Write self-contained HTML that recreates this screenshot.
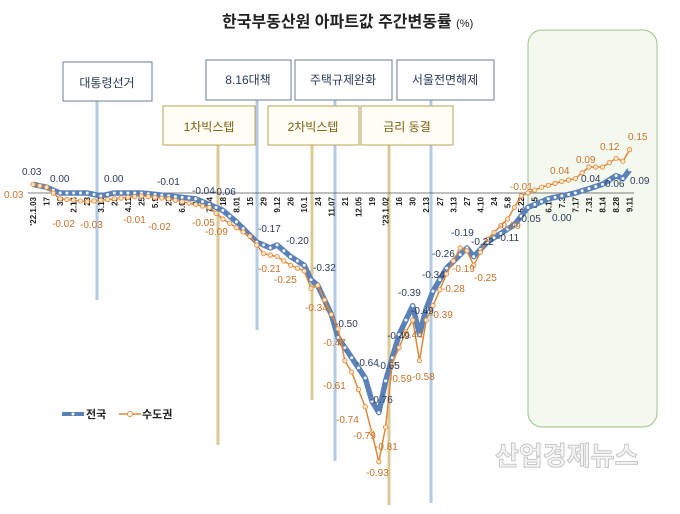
<!DOCTYPE html>
<html><head><meta charset="utf-8"><style>
body{margin:0;background:#fff}
svg text{font-family:"Liberation Sans","Noto Sans CJK KR",sans-serif}
</style></head><body>
<svg id="s" width="680" height="509" viewBox="0 0 680 509" xmlns="http://www.w3.org/2000/svg">
<rect width="680" height="509" fill="#fff"/>
<rect x="528" y="30" width="129" height="397" rx="14" fill="#f3f9ee" stroke="#9dc08b" stroke-width="1"/>
<text x="222" y="27" font-size="16" font-weight="bold" fill="#222">한국부동산원 아파트값 주간변동률 <tspan font-size="11" font-weight="normal">(%)</tspan></text>
<g stroke-width="3" opacity="0.8">
<line x1="97" y1="101" x2="97" y2="300" stroke="#9fbfdc"/>
<line x1="257" y1="100" x2="257" y2="330" stroke="#9fbfdc"/>
<line x1="335" y1="100" x2="335" y2="461" stroke="#9fbfdc"/>
<line x1="431" y1="100" x2="431" y2="503" stroke="#9fbfdc"/>
<line x1="218" y1="145" x2="218" y2="445" stroke="#d2bd7a"/>
<line x1="312" y1="145" x2="312" y2="400" stroke="#d2bd7a"/>
<line x1="389" y1="145" x2="389" y2="505" stroke="#d2bd7a"/>
</g>
<g font-size="12" text-anchor="middle">
<rect x="63" y="62" width="89" height="39" fill="#fff" stroke="#6d7c95"/><text x="107" y="87" fill="#2b3a57">대통령선거</text>
<rect x="206" y="60" width="85" height="40" fill="#fff" stroke="#6d7c95"/><text x="248" y="84" fill="#2b3a57">8.16대책</text>
<rect x="295" y="60" width="97" height="40" fill="#fff" stroke="#6d7c95"/><text x="343" y="84" fill="#2b3a57">주택규제완화</text>
<rect x="397" y="60" width="97" height="40" fill="#fff" stroke="#6d7c95"/><text x="445" y="84" fill="#2b3a57">서울전면해제</text>
<rect x="163" y="106" width="92" height="39" fill="#fffdf4" stroke="#b9a25a"/><text x="209" y="131" fill="#7a5a10">1차빅스텝</text>
<rect x="268" y="106" width="91" height="39" fill="#fffdf4" stroke="#b9a25a"/><text x="313" y="131" fill="#7a5a10">2차빅스텝</text>
<rect x="361" y="106" width="92" height="39" fill="#fffdf4" stroke="#b9a25a"/><text x="407" y="131" fill="#7a5a10">금리 동결</text>
</g>
<line x1="28" y1="193" x2="634" y2="193" stroke="#555" stroke-width="0.8"/>
<g id="ticks" font-size="8" font-weight="bold" fill="#222"></g>
<g id="ser"></g>
<g font-size="10" fill="#2b3a57">
<text x="22" y="175">0.03</text><text x="50" y="182">0.00</text><text x="104" y="182">0.00</text>
<text x="157" y="185">-0.01</text><text x="192" y="194">-0.04</text><text x="213" y="195">-0.06</text>
<text x="258" y="232">-0.17</text><text x="286" y="244">-0.20</text><text x="313" y="271">-0.32</text>
<text x="335" y="327">-0.50</text><text x="356" y="366">-0.64</text><text x="377" y="369">-0.65</text>
<text x="370" y="403">-0.76</text><text x="387" y="339">-0.49</text><text x="398" y="296">-0.39</text>
<text x="411" y="314">-0.49</text><text x="422" y="278">-0.34</text><text x="432" y="257">-0.26</text>
<text x="451" y="236">-0.19</text><text x="471" y="245">-0.22</text><text x="497" y="241">-0.11</text>
<text x="518" y="222">-0.05</text><text x="552" y="221">0.00</text><text x="581" y="182">0.04</text>
<text x="605" y="187">0.06</text><text x="630" y="184">0.09</text>
</g>
<g font-size="10" fill="#c8722a">
<text x="4" y="198">0.03</text><text x="52" y="227">-0.02</text><text x="80" y="228">-0.03</text>
<text x="123" y="223">-0.01</text><text x="148" y="230">-0.02</text><text x="192" y="226">-0.05</text>
<text x="205" y="235">-0.09</text><text x="258" y="272">-0.21</text><text x="274" y="283">-0.25</text>
<text x="305" y="311">-0.34</text><text x="323" y="346">-0.47</text><text x="323" y="389">-0.61</text>
<text x="336" y="423">-0.74</text><text x="353" y="439">-0.79</text><text x="375" y="450">-0.81</text>
<text x="366" y="476">-0.93</text><text x="389" y="382">-0.59</text><text x="400" y="338">-0.44</text>
<text x="412" y="380">-0.58</text><text x="430" y="318">-0.39</text><text x="442" y="292">-0.28</text>
<text x="452" y="272">-0.19</text><text x="474" y="281">-0.25</text><text x="498" y="229">-0.09</text>
<text x="510" y="190">-0.01</text><text x="550" y="174">0.04</text><text x="576" y="163">0.09</text>
<text x="600" y="150">0.12</text><text x="628" y="140">0.15</text>
</g>
<line x1="62" y1="414" x2="84" y2="414" stroke="#5b82b8" stroke-width="4"/><circle cx="73" cy="414" r="1.5" fill="#fff"/>
<text x="86" y="418" font-size="11" font-weight="bold" fill="#222">전국</text>
<line x1="119" y1="414" x2="141" y2="414" stroke="#e0883a" stroke-width="1.5"/><circle cx="130" cy="414" r="2.5" fill="#fff" stroke="#e0883a"/>
<text x="142" y="418" font-size="11" font-weight="bold" fill="#222">수도권</text>
<text x="495" y="465" font-size="26" font-weight="bold" fill="#f4f4f4" stroke="#c8c8c8" stroke-width="1">산업경제뉴스</text>
</svg>
<script>
var X=i=>33+6.78*i, Y=v=>193-v*289;
function interp(k){var a=[];for(var i=0;i<=88;i++){for(var j=0;j<k.length-1;j++){if(i>=k[j][0]&&i<=k[j+1][0]){var t=(i-k[j][0])/(k[j+1][0]-k[j][0]||1);a.push(k[j][1]+t*(k[j+1][1]-k[j][1]));break;}}}return a;}
var B=interp([[0,0.03],[2,0.02],[4,0.00],[8,0.00],[10,-0.01],[12,0.00],[16,0.00],[20,-0.01],[24,-0.02],[26,-0.04],[28,-0.06],[30,-0.10],[33,-0.17],[35,-0.19],[36,-0.18],[38,-0.22],[40,-0.25],[41,-0.30],[42,-0.32],[44,-0.42],[45,-0.50],[47,-0.57],[49,-0.64],[50,-0.72],[51,-0.76],[52,-0.65],[54,-0.49],[56,-0.39],[57,-0.49],[58,-0.40],[59,-0.34],[61,-0.26],[64,-0.19],[65,-0.22],[67,-0.17],[71,-0.11],[73,-0.05],[76,-0.02],[80,0.00],[84,0.03],[86,0.06],[87,0.05],[88,0.08]]);
var O=interp([[0,0.03],[2,0.02],[4,-0.02],[8,-0.03],[12,-0.02],[16,-0.01],[20,-0.02],[24,-0.04],[26,-0.05],[28,-0.09],[30,-0.12],[32,-0.15],[34,-0.21],[36,-0.22],[38,-0.25],[40,-0.27],[41,-0.33],[42,-0.32],[44,-0.42],[45,-0.47],[46,-0.58],[47,-0.62],[48,-0.68],[49,-0.74],[50,-0.83],[51,-0.93],[52,-0.81],[53,-0.59],[55,-0.48],[56,-0.44],[57,-0.58],[58,-0.44],[59,-0.39],[61,-0.28],[63,-0.19],[64,-0.20],[65,-0.25],[67,-0.16],[70,-0.09],[72,-0.01],[75,0.02],[78,0.04],[80,0.05],[82,0.09],[84,0.09],[86,0.12],[87,0.11],[88,0.15]]);
var ns="http://www.w3.org/2000/svg",g=document.getElementById("ser");
function draw(a,col,w,mf,ms,r,sw){var p=a.map((v,i)=>X(i).toFixed(1)+","+Y(v).toFixed(1)).join(" ");
var l=document.createElementNS(ns,"polyline");l.setAttribute("points",p);l.setAttribute("fill","none");l.setAttribute("stroke",col);l.setAttribute("stroke-width",w);l.setAttribute("stroke-linejoin","round");g.appendChild(l);
a.forEach((v,i)=>{var c=document.createElementNS(ns,"circle");c.setAttribute("cx",X(i));c.setAttribute("cy",Y(v));c.setAttribute("r",r);c.setAttribute("fill",mf);c.setAttribute("stroke",ms);c.setAttribute("stroke-width",sw);g.appendChild(c);});}
draw(B,"#5b82b8",5.5,"#f4f8fc","none",1.5,0);
draw(O,"#e0883a",1.5,"#fbe6c8","#e0883a",2.2,0.8);
var labs=["'22.1.03","17","31","2.14","28","3.14","28","4.11","25","5.9","23","6.06","20","7.04","18","8.01","15","29","9.12","26","10.1","24","11.07","21","12.05","19","'23.1.02","16","30","2.13","27","3.13","27","4.10","24","5.8","5.22","6.5","6.19","7.3","7.17","7.31","8.14","8.28","9.11"];
var tg=document.getElementById("ticks");
labs.forEach((s,k)=>{var t=document.createElementNS(ns,"text");var x=X(2*k)+3;t.setAttribute("transform","translate("+x+",197) rotate(-90)");t.setAttribute("text-anchor","end");t.textContent=s;tg.appendChild(t);});
</script>
</body></html>
